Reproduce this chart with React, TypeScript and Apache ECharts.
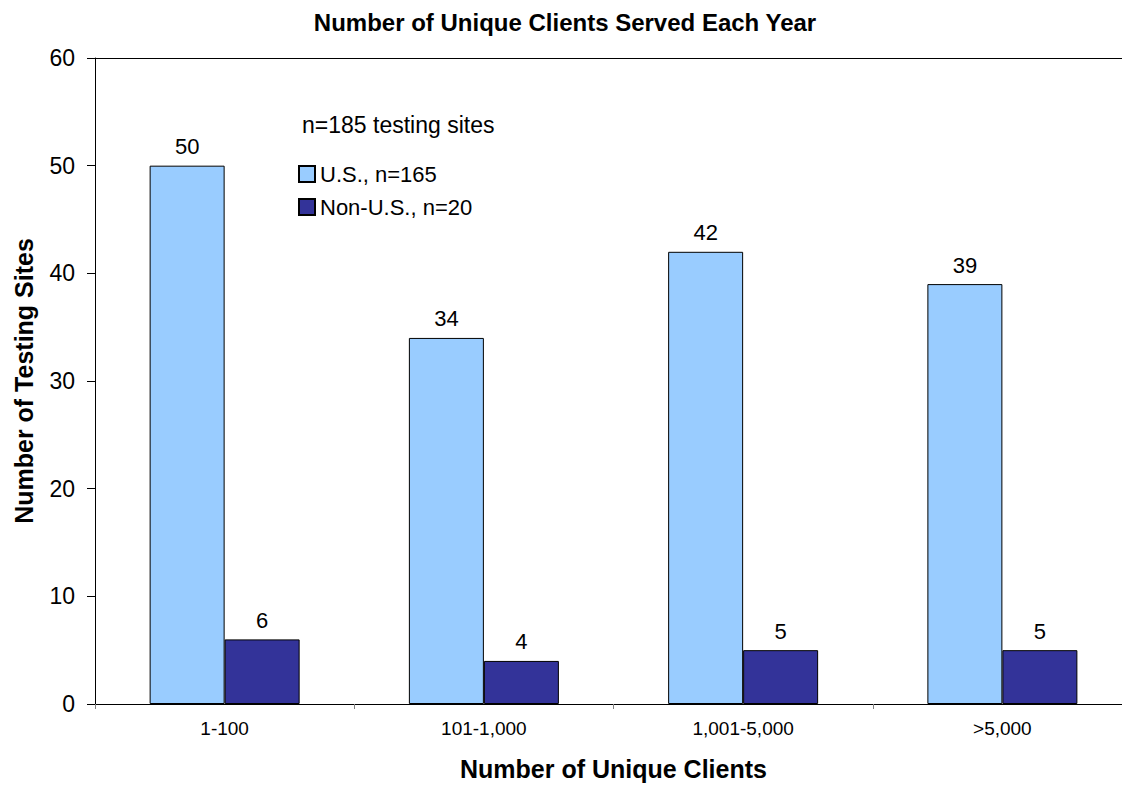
import React, { useEffect, useRef } from "react";
import * as echarts from "echarts";

const categories = ["1-100", "101-1,000", "1,001-5,000", ">5,000"];
const usValues = [50, 34, 42, 39];
const nonUsValues = [6, 4, 5, 5];
const seriesNames = ["U.S., n=165", "Non-U.S., n=20"];
const noteText = "n=185 testing sites";

const FONT = "Liberation Sans, Arial, sans-serif";

export default function App() {
  const ref = useRef<HTMLDivElement>(null);
  useEffect(() => {
    document.body.style.margin = "0";
    const chart = echarts.init(ref.current!, null, { renderer: "svg" });
    const labelStyle = {
      show: true,
      position: "top" as const,
      distance: 8,
      color: "#000",
      fontSize: 22,
      fontFamily: FONT,
    };
    chart.setOption({
      animation: false,
      backgroundColor: "#fff",
      title: {
        text: "Number of Unique Clients Served Each Year",
        left: 560,
        textAlign: "center",
        top: 5,
        textStyle: { fontFamily: FONT, fontSize: 24, fontWeight: "bold", color: "#000" },
      },
      legend: {
        orient: "vertical",
        left: 298,
        top: 163,
        padding: 0,
        itemWidth: 16,
        itemHeight: 16,
        itemGap: 11,
        icon: "rect",
        textStyle: { fontFamily: FONT, fontSize: 22, color: "#000" },
        data: seriesNames,
      },
      graphic: [
        {
          type: "text",
          left: 302,
          top: 113,
          style: { text: noteText, font: `23px ${FONT}`, fill: "#000" },
        },
      ],
      grid: {
        left: 95,
        top: 58,
        right: -10,
        bottom: 85,
        show: false,
        outerBoundsMode: "none",
      },
      xAxis: [
        {
          type: "category",
          data: categories,
          name: "Number of Unique Clients",
          nameLocation: "middle",
          nameGap: 52,
          nameMoveOverlap: false,
          nameTextStyle: { fontFamily: FONT, fontSize: 25, fontWeight: "bold", color: "#000" },
          axisLine: { lineStyle: { color: "#000", width: 1 } },
          axisTick: { show: true, length: 5, lineStyle: { color: "#808080" } },
          axisLabel: { fontFamily: FONT, fontSize: 19, color: "#000", margin: 15 },
        },
        {
          type: "category",
          data: categories,
          position: "top",
          axisLine: { show: true, lineStyle: { color: "#000", width: 1 } },
          axisTick: { show: false },
          axisLabel: { show: false },
        },
      ],
      yAxis: {
        type: "value",
        min: 0,
        max: 60,
        interval: 10,
        name: "Number of Testing Sites",
        nameLocation: "middle",
        nameGap: 59,
        nameMoveOverlap: false,
        nameTextStyle: { fontFamily: FONT, fontSize: 25, fontWeight: "bold", color: "#000" },
        axisLine: { show: true, lineStyle: { color: "#000", width: 1 } },
        axisTick: { show: true, length: 8, lineStyle: { color: "#000" } },
        axisLabel: { fontFamily: FONT, fontSize: 23, color: "#000", margin: 20 },
        splitLine: { show: false },
      },
      series: [
        {
          name: seriesNames[0],
          type: "bar",
          data: usValues,
          barWidth: 75,
          barGap: "0%",
          itemStyle: { color: "#99CCFF", borderColor: "#000", borderWidth: 1 },
          label: labelStyle,
        },
        {
          name: seriesNames[1],
          type: "bar",
          data: nonUsValues,
          barWidth: 75,
          barGap: "0%",
          itemStyle: { color: "#333399", borderColor: "#000", borderWidth: 1 },
          label: labelStyle,
        },
      ],
    });
    return () => chart.dispose();
  }, []);
  return <div ref={ref} style={{ width: 1122, height: 789 }} />;
}
